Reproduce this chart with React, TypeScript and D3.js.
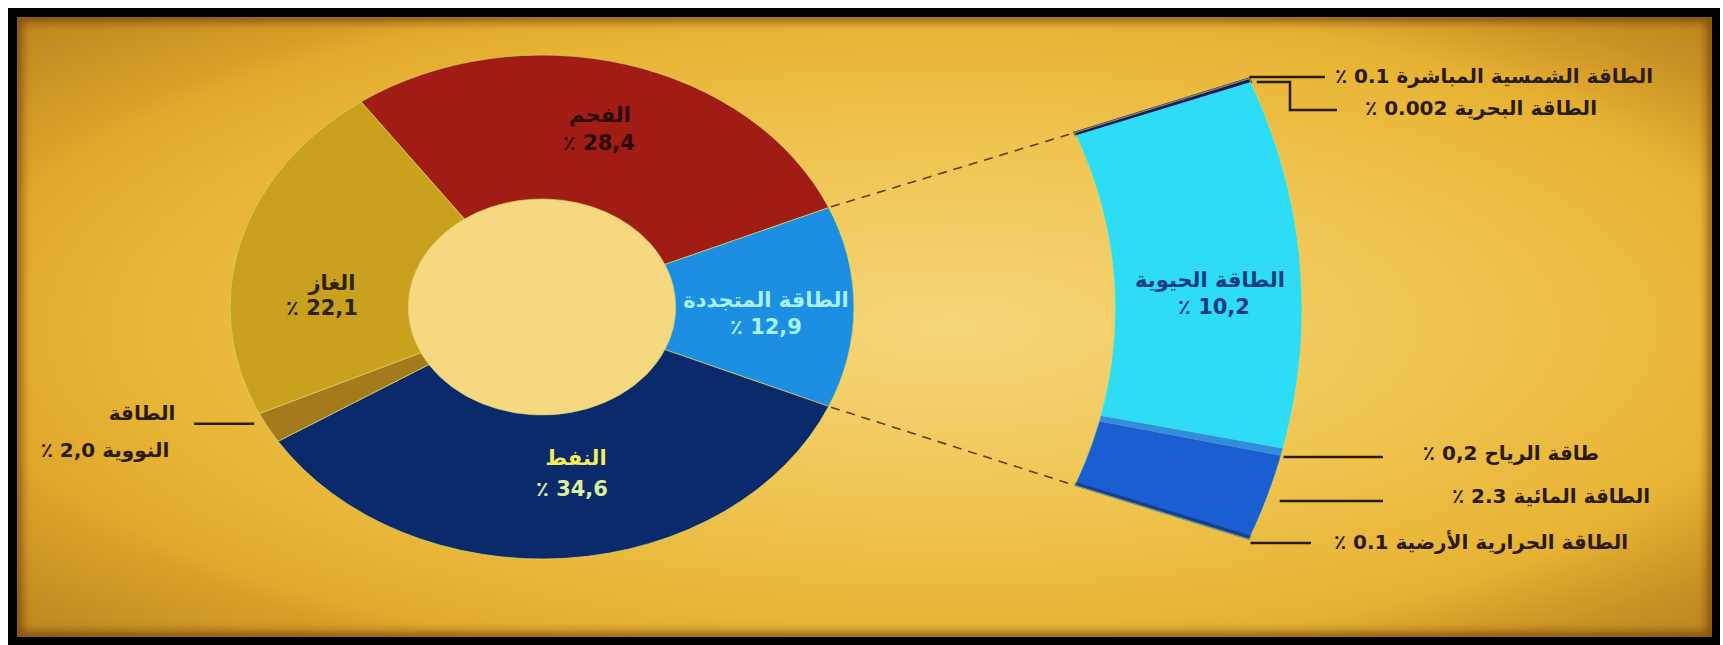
import React from "react";
import * as d3 from "d3";

// ---- data ----
const categories = ["الفحم", "الطاقة المتجددة", "النفط", "الطاقة النووية", "الغاز"];
const shares = [28.4, 12.9, 34.6, 2.0, 22.1];
const shareLabels = ["28,4", "12,9", "34,6", "2,0", "22,1"];

const renewableSources = [
  "الطاقة الشمسية المباشرة",
  "الطاقة البحرية",
  "الطاقة الحيوية",
  "طاقة الرياح",
  "الطاقة المائية",
  "الطاقة الحرارية الأرضية",
];
const renewableShares = [0.1, 0.002, 10.2, 0.2, 2.3, 0.1];
const renewableShareLabels = ["0.1", "0.002", "10,2", "0,2", "2.3", "0.1"];

// ---- styles ----
const mainColors = ["#a11c14", "#1d8fe2", "#0b2a6c", "#a47a1c", "#c9a11f"];
const detailColors = ["#17185a", "#2a2a70", "#2edcf6", "#2f8ee0", "#1b5ed2", "#143f92"];
const detailStroke = [2.2, 0, 0, 0, 0, 1.2];
const FONT = "'DejaVu Sans', sans-serif";

export default function App() {
  const W = 1723, H = 645;
  // main donut geometry
  const CX = 542, CY = 307, SX = 1.238;
  const R_OUT = 252, R_IN = 108;
  // detail ring geometry
  const DCX = 506, DCY = 309, D_IN = 492, D_OUT = 643, D_HALF = (21 * Math.PI) / 180;

  const total = d3.sum(shares);
  const renIdx = 1;
  const renSpan = (2 * Math.PI * shares[renIdx]) / total;
  const start = Math.PI / 2 - renSpan / 2 - (2 * Math.PI * shares[0]) / total;
  const arcs = d3.pie<number>().sort(null).value((d) => d).startAngle(start).endAngle(start + 2 * Math.PI)(shares);
  const ren = arcs[renIdx];
  const subArcs = d3
    .pie<number>()
    .sort(null)
    .value((d) => d)
    .startAngle(Math.PI / 2 - D_HALF)
    .endAngle(Math.PI / 2 + D_HALF)(renewableShares);
  const arcMain = d3.arc<any>().innerRadius(R_IN).outerRadius(R_OUT);
  const arcDetail = d3.arc<any>().innerRadius(D_IN).outerRadius(D_OUT);
  const pt = (r: number, a: number): [number, number] => [CX + SX * r * Math.sin(a), CY - r * Math.cos(a)];
  const dpt = (r: number, a: number): [number, number] => [DCX + SX * r * Math.sin(a), DCY - r * Math.cos(a)];
  const ringX = (y: number) => DCX + SX * Math.sqrt(Math.max(0, D_OUT * D_OUT - (y - DCY) * (y - DCY)));
  const mid = (a: any) => (a.startAngle + a.endAngle) / 2;

  // label layout (positions only)
  const mainLabelPos = [
    { x: 600, y1: 115, x2: 599, y2: 143, c1: "#2a0a05", c2: "#2a0a05" },
    { x: 766, y1: 300, x2: 766, y2: 327, c1: "#a9f2ff", c2: "#a9f2ff" },
    { x: 576, y1: 458, x2: 572, y2: 489, c1: "#f4ec5a", c2: "#d8f0a0" },
    null,
    { x: 332, y1: 283, x2: 322, y2: 308, c1: "#2e2205", c2: "#2e2205" },
  ];
  const detailLabelPos: any[] = [
    { ly: 77, gap: 1, x2: 1325, tx: 1494, ty: 76 },
    { ly: 82, gap: 6, elbowX: 1290, elbowY: 110, x2: 1337, tx: 1481, ty: 108 },
    null,
    { ly: 457, gap: 3, x2: 1383, tx: 1511, ty: 453 },
    { ly: 501, gap: 14, x2: 1383, tx: 1551, ty: 496 },
    { ly: 543, gap: 3, x2: 1311, tx: 1481, ty: 542 },
  ];

  const nuc = arcs[3];
  const nucPt = pt(R_OUT, mid(nuc));
  const nucY = nucPt[1] - 4;
  const nucX2 = nucPt[0] - 14;

  const lineColor = "#2a1a08";

  return (
    <svg width={W} height={H} style={{ position: "fixed", left: 0, top: 0 }} xmlns="http://www.w3.org/2000/svg">
      <defs>
        <radialGradient id="bg" cx="0.55" cy="0.5" r="0.6">
          <stop offset="0" stopColor="#f6d67c" />
          <stop offset="0.45" stopColor="#f0c654" />
          <stop offset="0.8" stopColor="#e8b536" />
          <stop offset="1" stopColor="#dea52a" />
        </radialGradient>
        <radialGradient id="vig" cx="0.5" cy="0.5" r="0.72">
          <stop offset="0.75" stopColor="#5a2a00" stopOpacity="0" />
          <stop offset="1" stopColor="#5a2a00" stopOpacity="0.28" />
        </radialGradient>
        <filter id="blur" x="-5%" y="-5%" width="110%" height="110%">
          <feGaussianBlur stdDeviation="4" />
        </filter>
        <clipPath id="inner">
          <rect x={17} y={17} width={1695} height={620} />
        </clipPath>
      </defs>
      <rect x={0} y={0} width={W} height={H} fill="#ffffff" />
      <rect x={8} y={8} width={1712} height={637} fill="#000000" />
      <rect x={17} y={17} width={1695} height={620} fill="url(#bg)" />
      {/* inner hole lighter */}
      <ellipse cx={CX} cy={CY} rx={R_IN * SX} ry={R_IN} fill="#f5d880" />

      {/* dashed connectors */}
      {[
        [ren.startAngle, subArcs[0].startAngle],
        [ren.endAngle, subArcs[subArcs.length - 1].endAngle],
      ].map(([a, b], i) => {
        const p1 = pt(R_OUT + 2, a);
        const p2 = dpt(D_IN - 2, b);
        return (
          <line key={i} x1={p1[0]} y1={p1[1]} x2={p2[0]} y2={p2[1]} stroke="#5a4010" strokeWidth={1.6} strokeDasharray="9 7" />
        );
      })}

      {/* main donut */}
      <g transform={`translate(${CX},${CY}) scale(${SX},1)`}>
        {arcs.map((a, i) => (
          <path key={i} d={arcMain(a) as string} fill={mainColors[i]} stroke="#d2d868" strokeWidth={1} vectorEffect="non-scaling-stroke" strokeOpacity={0.7} />
        ))}
      </g>
      {/* detail ring */}
      <g transform={`translate(${DCX},${DCY}) scale(${SX},1)`}>
        {subArcs.map((a, i) => (
          <path
            key={"d" + i}
            d={arcDetail(a) as string}
            fill={detailColors[i]}
            stroke={detailStroke[i] ? detailColors[i] : "none"}
            strokeWidth={detailStroke[i]}
            vectorEffect="non-scaling-stroke"
          />
        ))}
        <path
          d={arcDetail({ startAngle: Math.PI / 2 - D_HALF, endAngle: Math.PI / 2 + D_HALF }) as string}
          fill="none"
          stroke="#c8e070"
          strokeWidth={1.2}
          vectorEffect="non-scaling-stroke"
          strokeOpacity={0.6}
        />
      </g>

      {/* main labels */}
      {arcs.map((a, i) => {
        const p = mainLabelPos[i];
        if (!p) return null;
        return (
          <g key={i} fontFamily={FONT} fontWeight="bold" fontSize={21}>
            <text x={p.x} y={p.y1} textAnchor="middle" dominantBaseline="central" direction="rtl" fill={p.c1}>
              {categories[i]}
            </text>
            <text x={p.x2} y={p.y2} textAnchor="middle" dominantBaseline="central" fill={p.c2}>
              {"٪ " + shareLabels[i]}
            </text>
          </g>
        );
      })}

      {/* nuclear label */}
      <line x1={nucX2 - 60} y1={nucY} x2={nucX2} y2={nucY} stroke={lineColor} strokeWidth={2.5} />
      <g fontFamily={FONT} fontWeight="bold" fontSize={20} fill={lineColor}>
        <text x={142} y={413} textAnchor="middle" dominantBaseline="central" direction="rtl">
          {categories[3].split(" ")[0]}
        </text>
        <text x={105} y={450} textAnchor="middle" dominantBaseline="central" direction="rtl">
          {categories[3].split(" ")[1] + " " + shareLabels[3] + " ٪"}
        </text>
      </g>

      {/* biomass label inside */}
      <g fontFamily={FONT} fontWeight="bold" fontSize={21} fill="#123a80">
        <text x={1210} y={280} textAnchor="middle" dominantBaseline="central" direction="rtl">
          {renewableSources[2]}
        </text>
        <text x={1214} y={307} textAnchor="middle" dominantBaseline="central">
          {"٪ " + renewableShareLabels[2]}
        </text>
      </g>

      {/* detail labels */}
      {subArcs.map((a, i) => {
        const L = detailLabelPos[i];
        if (!L) return null;
        const sx = ringX(L.ly) + L.gap;
        const path = L.elbowX
          ? `M${sx},${L.ly}H${L.elbowX}V${L.elbowY}H${L.x2}`
          : `M${sx},${L.ly}H${L.x2}`;
        return (
          <g key={i}>
            <path d={path} fill="none" stroke={lineColor} strokeWidth={2.5} />
            <text x={L.tx} y={L.ty} textAnchor="middle" dominantBaseline="central" direction="rtl" fontFamily={FONT} fontWeight="bold" fontSize={20} fill={lineColor}>
              {renewableSources[i] + " " + renewableShareLabels[i] + " ٪"}
            </text>
          </g>
        );
      })}

      {/* vignette */}
      <g clipPath="url(#inner)" pointerEvents="none">
        <rect x={17} y={17} width={1695} height={620} fill="url(#vig)" />
        <rect x={17} y={17} width={1695} height={620} fill="none" stroke="#4a2200" strokeWidth={10} strokeOpacity={0.55} filter="url(#blur)" />
      </g>
    </svg>
  );
}
